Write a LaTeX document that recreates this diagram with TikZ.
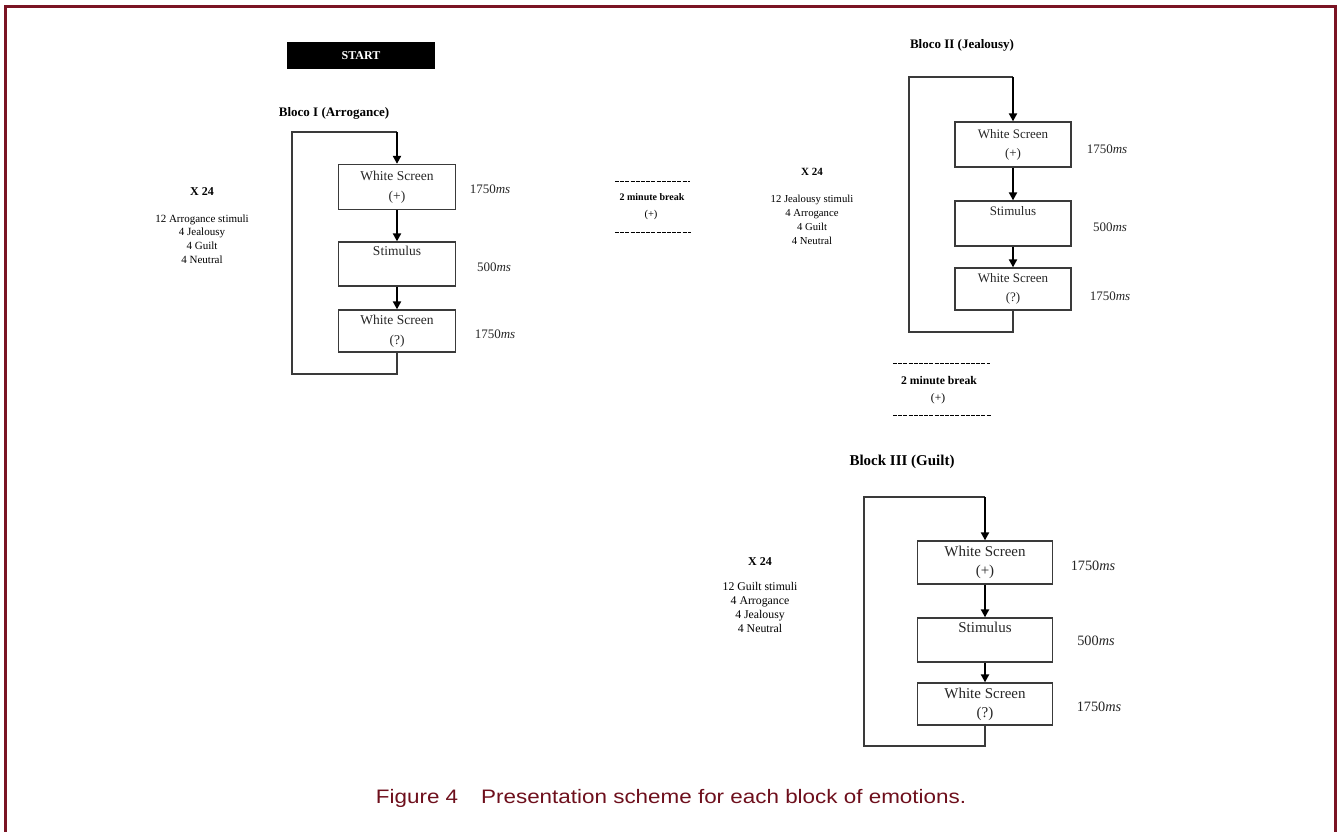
\documentclass[tikz,border=0pt]{standalone}
\usepackage{fontspec}
\setmainfont{Liberation Serif}
\newfontfamily\capfont{Liberation Sans}
\usetikzlibrary{arrows.meta}
\definecolor{frame}{HTML}{7A1423}
\definecolor{captc}{HTML}{6E0F1C}
\definecolor{boxc}{HTML}{3A3A3A}
\tikzset{
  stepbox/.style={draw=boxc, line width=1.3pt, minimum width=117pt, align=center, inner sep=0pt, font=\fontsize{13.5}{20}\selectfont, text=black!85},
  flowarrow/.style={draw=black, line width=2.6pt, -{Triangle[length=8pt,width=8pt]}},
  loopline/.style={draw=boxc, line width=1.3pt},
  title/.style={font=\bfseries\fontsize{13}{15}\selectfont},
  timelbl/.style={font=\fontsize{13}{15}\selectfont, text=black!85},
  xlbl/.style={font=\bfseries\fontsize{12}{14}\selectfont},
  listlbl/.style={align=center, font=\fontsize{11}{13.8}\selectfont},
  brk/.style={font=\bfseries\fontsize{10}{12}\selectfont},
  dashline/.style={line width=0.8pt, dash pattern=on 4pt off 1.2pt},
}
\begin{document}
\begin{tikzpicture}[x=1pt,y=-1pt]
\useasboundingbox (0,0) rectangle (1338,832);
% frame
\draw[frame, line width=2.2pt] (5.5,840) -- (5.5,6.5) -- (1335.5,6.5) -- (1335.5,840);

% ---------- Block I ----------
\node[fill=black, minimum width=148pt, minimum height=27pt, inner sep=0pt, text=white, font=\bfseries\fontsize{12}{14}\selectfont] (start) at (361,55.5) {START};
\node[title] (t1) at (334,113) {Bloco I (Arrogance)};
\node[stepbox, minimum height=45pt] (a1) at (397,187) {White Screen\\(+)};
\node[stepbox, minimum height=44pt] (a2) at (397,264) {Stimulus\\\strut};
\node[stepbox, minimum height=42pt] (a3) at (397,331) {White Screen\\(?)};
\coordinate (a0) at (397,132);
\coordinate (aTL) at (292,132);
\coordinate (aBL) at (292,374);
\coordinate (aBR) at (397,374);
\draw[loopline] (a3.south) -- (aBR) -- (aBL) -- (aTL) -- (a0);
\draw[flowarrow] (a0) -- (a1.north);
\draw[flowarrow] (a1.south) -- (a2.north);
\draw[flowarrow] (a2.south) -- (a3.north);
\node[timelbl] (la1) at (490,189) {1750\textit{ms}};
\node[timelbl] (la2) at (494,267) {500\textit{ms}};
\node[timelbl] (la3) at (495,334) {1750\textit{ms}};
\node[xlbl] (xa) at (202,192) {X 24};
\node[listlbl, anchor=north] (lista) at (202,211) {12 Arrogance stimuli\\4 Jealousy\\4 Guilt\\4 Neutral};

% ---------- Break 1 ----------
\coordinate (d1a) at (615,181);
\coordinate (d1b) at (690,181);
\coordinate (d1c) at (615,232);
\coordinate (d1d) at (691,232);
\draw[dashline] (d1a) -- (d1b);
\draw[dashline] (d1c) -- (d1d);
\node[brk] (br1) at (652,197) {2 minute break};
\node[font=\fontsize{10.5}{12}\selectfont] (br1p) at (651,215) {(+)};

% ---------- Block II ----------
\node[title] (t2) at (962,45) {Bloco II (Jealousy)};
\node[stepbox, minimum width=116pt, minimum height=45pt, font=\fontsize{13}{19}\selectfont] (b1) at (1013,144.5) {White Screen\\(+)};
\node[stepbox, minimum width=116pt, minimum height=45pt, font=\fontsize{13}{19}\selectfont] (b2) at (1013,223.5) {Stimulus\\\strut};
\node[stepbox, minimum width=116pt, minimum height=42pt, font=\fontsize{13}{19}\selectfont] (b3) at (1013,289) {White Screen\\(?)};
\coordinate (b0) at (1013,77);
\coordinate (bTL) at (909,77);
\coordinate (bBL) at (909,332);
\coordinate (bBR) at (1013,332);
\draw[loopline] (b3.south) -- (bBR) -- (bBL) -- (bTL) -- (b0);
\draw[flowarrow, line width=2pt] (b0) -- (b1.north);
\draw[flowarrow, line width=2pt] (b1.south) -- (b2.north);
\draw[flowarrow, line width=2pt] (b2.south) -- (b3.north);
\node[timelbl] (lb1) at (1107,149) {1750\textit{ms}};
\node[timelbl] (lb2) at (1110,227) {500\textit{ms}};
\node[timelbl] (lb3) at (1110,296) {1750\textit{ms}};
\node[xlbl, font=\bfseries\fontsize{11}{13}\selectfont] (xb) at (812,172) {X 24};
\node[listlbl, anchor=north, font=\fontsize{10.7}{13.8}\selectfont] (listb) at (812,192) {12 Jealousy stimuli\\4 Arrogance\\4 Guilt\\4 Neutral};

% ---------- Break 2 ----------
\coordinate (d2a) at (893,363);
\coordinate (d2b) at (990,363);
\coordinate (d2c) at (893,415);
\coordinate (d2d) at (991,415);
\draw[dashline] (d2a) -- (d2b);
\draw[dashline] (d2c) -- (d2d);
\node[brk, font=\bfseries\fontsize{11.7}{13}\selectfont] (br2) at (939,381) {2 minute break};
\node[font=\fontsize{11.5}{13}\selectfont] (br2p) at (938,399) {(+)};

% ---------- Block III ----------
\node[title, font=\bfseries\fontsize{15}{17}\selectfont] (t3) at (902,462) {Block III (Guilt)};
\node[stepbox, minimum width=135pt, minimum height=43pt, font=\fontsize{15}{19}\selectfont] (c1) at (985,562.5) {White Screen\\(+)};
\node[stepbox, minimum width=135pt, minimum height=44pt, font=\fontsize{15}{19}\selectfont] (c2) at (985,640) {Stimulus\\\strut};
\node[stepbox, minimum width=135pt, minimum height=42pt, font=\fontsize{15}{19}\selectfont] (c3) at (985,704) {White Screen\\(?)};
\coordinate (c0) at (985,497);
\coordinate (cTL) at (864,497);
\coordinate (cBL) at (864,746);
\coordinate (cBR) at (985,746);
\draw[loopline] (c3.south) -- (cBR) -- (cBL) -- (cTL) -- (c0);
\draw[flowarrow] (c0) -- (c1.north);
\draw[flowarrow] (c1.south) -- (c2.north);
\draw[flowarrow] (c2.south) -- (c3.north);
\node[timelbl, font=\fontsize{14.3}{16}\selectfont] (lc1) at (1093,566) {1750\textit{ms}};
\node[timelbl, font=\fontsize{14.3}{16}\selectfont] (lc2) at (1096,641) {500\textit{ms}};
\node[timelbl, font=\fontsize{14.3}{16}\selectfont] (lc3) at (1099,707) {1750\textit{ms}};
\node[xlbl] (xc) at (760,562) {X 24};
\node[listlbl, anchor=north, font=\fontsize{11.8}{14}\selectfont] (listc) at (760,579) {12 Guilt stimuli\\4 Arrogance\\4 Jealousy\\4 Neutral};

% ---------- Caption ----------
\node[text=captc, font=\capfont\fontsize{19.5}{22}\selectfont, xscale=1.15, transform shape, anchor=base, inner sep=0pt] (cap) at (671,803) {Figure 4\hspace{20pt}Presentation scheme for each block of emotions.};
\end{tikzpicture}
\end{document}
